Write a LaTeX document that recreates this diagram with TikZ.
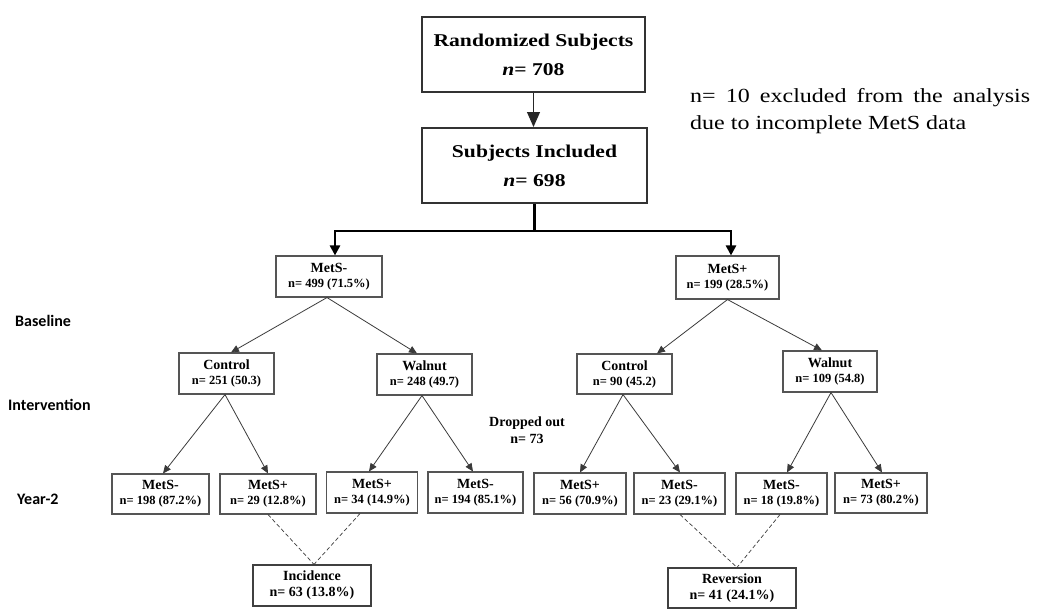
\documentclass[tikz,border=0pt]{standalone}
\usepackage{fontspec}
\setmainfont{Liberation Serif}
\newfontfamily\palfont[FakeStretch=1.2]{Liberation Serif}
\newfontfamily\labfont{Carlito}
\usetikzlibrary{arrows.meta,calc}
\definecolor{boxgray}{HTML}{555555}
\definecolor{linegray}{HTML}{3A3A3A}
\newcommand\subln[1]{{\fontsize{12.5}{15}\selectfont #1}}
\begin{document}
\begin{tikzpicture}[x=1pt,y=-1pt,
  bigbox/.style={draw=black!80, line width=2pt, inner sep=0pt, align=center,
    minimum width=224pt, minimum height=75pt,
    font=\palfont\bfseries\fontsize{18}{29}\selectfont},
  smallbox/.style={draw=boxgray, line width=1.1pt, inner sep=0pt, align=center,
    minimum height=41pt, font=\bfseries\fontsize{14}{15}\selectfont},
  resbox/.style={draw=black!75, line width=1.2pt, inner sep=0pt, align=center,
    minimum height=41pt, font=\bfseries\fontsize{14}{16}\selectfont},
  stagelab/.style={anchor=west, inner sep=0pt, font=\labfont\bfseries\fontsize{16}{18}\selectfont},
  toparrow/.style={draw=black!85, line width=1pt, -{Triangle[length=15pt,width=13pt]}},
  thickline/.style={draw=black, line width=2.6pt},
  thickarrow/.style={draw=black, line width=2.6pt, -{Triangle[length=10pt,width=10pt]}},
  thinarrow/.style={draw=linegray, line width=0.8pt, -{Triangle[length=8pt,width=7pt]}},
  dashline/.style={draw=linegray, line width=0.7pt, dash pattern=on 4pt off 2.5pt}
]
\useasboundingbox (0,0) rectangle (1041,608);

% top boxes
\node[bigbox, minimum width=223pt] (rand) at (533.5,54.5) {Randomized Subjects\\\textit{n}= 708};
\node[bigbox, minimum width=225pt] (incl) at (534.5,165.5) {Subjects Included\\\textit{n}= 698};

\node[anchor=north west, inner sep=0pt, text width=340pt, align=justify,
  font=\palfont\fontsize{20}{27}\selectfont] (note) at (690,88)
  {n= 10 excluded from the analysis due to incomplete MetS data};

% baseline
\node[smallbox, minimum width=106pt] (msneg) at (329,276.5) {MetS-\\\subln{n= 499 (71.5\%)}};
\node[smallbox, minimum width=103pt, minimum height=43pt] (mspos) at (727.5,277.5) {MetS+\\\subln{n= 199 (28.5\%)}};

% intervention
\node[smallbox, minimum width=95pt] (ctrlL) at (226.5,373.5) {Control\\\subln{n= 251 (50.3)}};
\node[smallbox, minimum width=95pt] (walL) at (424.5,374.5) {Walnut\\\subln{n= 248 (49.7)}};
\node[smallbox, minimum width=95pt, minimum height=40pt] (ctrlR) at (624.5,374) {Control\\\subln{n= 90 (45.2)}};
\node[smallbox, minimum width=94pt] (walR) at (830,371.5) {Walnut\\\subln{n= 109 (54.8)}};

% year 2
\node[smallbox, minimum width=97pt, minimum height=40pt] (L1) at (160.5,494) {MetS-\\\subln{n= 198 (87.2\%)}};
\node[smallbox, minimum width=96pt, minimum height=40pt] (L2) at (268,494) {MetS+\\\subln{n= 29 (12.8\%)}};
\node[smallbox, minimum width=91pt] (L3) at (372,492.5) {MetS+\\\subln{n= 34 (14.9\%)}};
\node[smallbox, minimum width=95pt] (L4) at (475.5,492.5) {MetS-\\\subln{n= 194 (85.1\%)}};
\node[smallbox, minimum width=92pt] (R1) at (580,493.5) {MetS+\\\subln{n= 56 (70.9\%)}};
\node[smallbox, minimum width=91pt] (R2) at (679.5,493.5) {MetS-\\\subln{n= 23 (29.1\%)}};
\node[smallbox, minimum width=91pt] (R3) at (781.5,493.5) {MetS-\\\subln{n= 18 (19.8\%)}};
\node[smallbox, minimum width=92pt, minimum height=40pt] (R4) at (881,493) {MetS+\\\subln{n= 73 (80.2\%)}};

% results
\node[resbox, minimum width=118pt] (inc) at (312,585.5) {Incidence\\n= 63 (13.8\%)};
\node[resbox, minimum width=128pt, minimum height=40pt] (rev) at (732,588) {Reversion\\n= 41 (24.1\%)};

% dropped out
\node[inner sep=0pt, align=center, font=\bfseries\fontsize{14}{17}\selectfont] (drop) at (527,430.5) {Dropped out\\n= 73};

% stage labels
\node[stagelab] (lbase) at (15,321) {Baseline};
\node[stagelab] (lint) at (8,405) {Intervention};
\node[stagelab] (lyear) at (17,499) {Year-2};

% connectors
\draw[toparrow] (rand.south) -- (rand.south |- incl.north);
\coordinate (split) at (533,231);
\draw[thickline] (incl.south) -- (incl.south |- split);
\draw[thickarrow] (split) -| ([xshift=6pt]msneg.north);
\draw[thickarrow] (split) -| ([xshift=3.5pt]mspos.north);

\draw[thinarrow] ([xshift=-2pt]msneg.south) -- ([xshift=4.5pt]ctrlL.north);
\draw[thinarrow] ([xshift=-2pt]msneg.south) -- ([xshift=-7.5pt]walL.north);
\draw[thinarrow] (mspos.south) -- ([xshift=32.5pt]ctrlR.north);
\draw[thinarrow] (mspos.south) -- ([xshift=-8pt]walR.north);

\draw[thinarrow] ([xshift=-1.5pt]ctrlL.south) -- ([xshift=2.5pt]L1.north);
\draw[thinarrow] ([xshift=-1.5pt]ctrlL.south) -- (L2.north);
\draw[thinarrow] ([xshift=-2.5pt]walL.south) -- ([xshift=-3pt]L3.north);
\draw[thinarrow] ([xshift=-2.5pt]walL.south) -- ([xshift=-2.5pt]L4.north);
\draw[thinarrow] ([xshift=-1.5pt]ctrlR.south) -- (R1.north);
\draw[thinarrow] ([xshift=-1.5pt]ctrlR.south) -- ([xshift=0.5pt]R2.north);
\draw[thinarrow] ([xshift=1pt]walR.south) -- ([xshift=5.5pt]R3.north);
\draw[thinarrow] ([xshift=1pt]walR.south) -- ([xshift=1pt]R4.north);

\draw[dashline] (L2.south) -- ([xshift=2pt]inc.north);
\draw[dashline] ([xshift=-12pt]L3.south) -- ([xshift=2pt]inc.north);
\draw[dashline] ([xshift=0.5pt]R2.south) -- ([xshift=5pt]rev.north);
\draw[dashline] ([xshift=-1.5pt]R3.south) -- ([xshift=5pt]rev.north);
\end{tikzpicture}
\end{document}
